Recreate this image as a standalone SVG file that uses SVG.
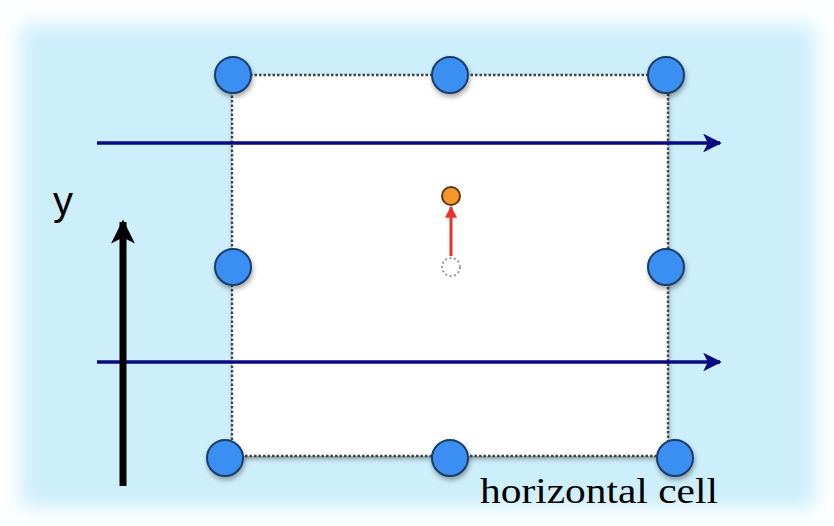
<svg xmlns="http://www.w3.org/2000/svg" width="834" height="526" viewBox="0 0 834 526">
<defs>
<filter id="blur" x="-10%" y="-10%" width="120%" height="120%"><feGaussianBlur stdDeviation="10"/></filter>
<filter id="shadow" x="-30%" y="-30%" width="160%" height="160%"><feDropShadow dx="1" dy="3" stdDeviation="2.5" flood-color="#000" flood-opacity="0.35"/></filter>
<marker id="navyHead" viewBox="0 0 10 10" refX="9" refY="5" markerWidth="5.5" markerHeight="5.5" orient="auto" markerUnits="strokeWidth"><path d="M0,0 L10,5 L0,10 L2.5,5 Z" fill="#0a0a80"/></marker>
<marker id="blackHead" viewBox="0 0 10 10" refX="9" refY="5" markerWidth="3.6" markerHeight="3.4" orient="auto" markerUnits="strokeWidth"><path d="M0,0 L10,5 L0,10 L2.5,5 Z" fill="#000"/></marker>
<marker id="redHead" viewBox="0 0 10 10" refX="9" refY="5" markerWidth="4" markerHeight="4" orient="auto" markerUnits="strokeWidth"><path d="M0,0 L10,5 L0,10 Z" fill="#e8322a"/></marker>
<style>
.node{fill:#3b8ef2;stroke:#1c3d66;stroke-width:2;filter:url(#shadow)}
.flow{stroke:#0a0a80;stroke-width:3.4;fill:none;marker-end:url(#navyHead)}
.lbl{font-family:"Liberation Sans",Arial,sans-serif}
</style>
</defs>
<rect width="834" height="526" fill="#ffffff"/>
<rect x="20" y="24" width="796" height="484" fill="#cdeefb" filter="url(#blur)"/>
<g id="cell">
<rect x="232" y="75" width="436" height="381" fill="#ffffff" filter="url(#shadow)"/>
<rect x="232" y="75" width="436" height="381" fill="none" stroke="#444" stroke-width="2.4" stroke-dasharray="2.5 2"/>
</g>
<g id="nodes">
<g id="n-tl"><circle class="node" cx="233" cy="75" r="18"/></g>
<g id="n-tm"><circle class="node" cx="450" cy="75" r="18"/></g>
<g id="n-tr"><circle class="node" cx="666" cy="75" r="18"/></g>
<g id="n-ml"><circle class="node" cx="233" cy="267" r="18"/></g>
<g id="n-mr"><circle class="node" cx="666" cy="267" r="18"/></g>
<g id="n-bl"><circle class="node" cx="225" cy="458" r="18"/></g>
<g id="n-bm"><circle class="node" cx="450" cy="458" r="18"/></g>
<g id="n-br"><circle class="node" cx="675" cy="458" r="18"/></g>
</g>
<g id="point-old"><circle cx="451" cy="267" r="9" fill="#fff" stroke="#999" stroke-width="2" stroke-dasharray="2 2.5"/></g>
<g id="point-new"><circle cx="451" cy="196" r="9" fill="#f5962a" stroke="#5a3a14" stroke-width="2"/></g>
<g id="connectors">
<line class="flow" x1="97" y1="143" x2="720" y2="143"/>
<line class="flow" x1="97" y1="362" x2="720" y2="362"/>
<line x1="123" y1="486" x2="123" y2="222" stroke="#000" stroke-width="7" marker-end="url(#blackHead)"/>
<line x1="451" y1="256" x2="451" y2="207" stroke="#e8322a" stroke-width="3" marker-end="url(#redHead)"/>
</g>
<text class="lbl" x="53" y="215" font-size="40">y</text>
<text x="480" y="503" font-family="'Liberation Serif','Times New Roman',serif" font-size="35" textLength="238" lengthAdjust="spacingAndGlyphs">horizontal cell</text>
</svg>
